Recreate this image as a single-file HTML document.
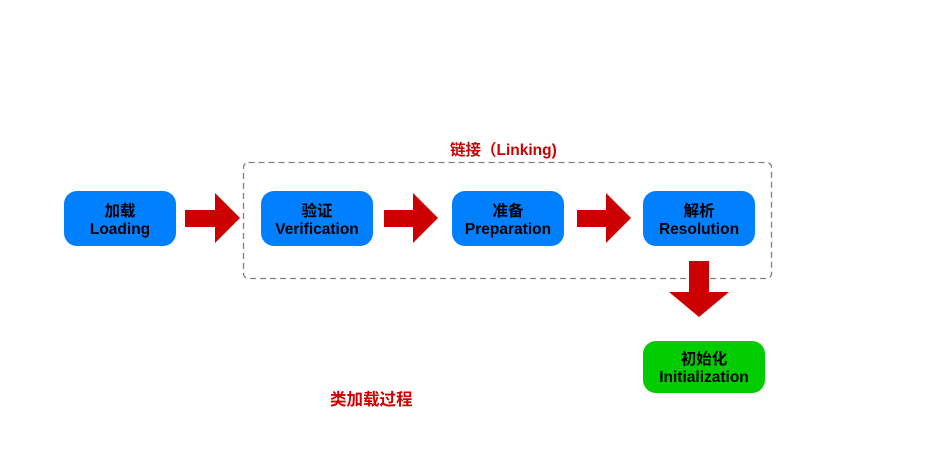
<!DOCTYPE html>
<html><head><meta charset="utf-8"><style>
body{margin:0;width:934px;height:462px;background:#fff;position:relative;overflow:hidden;font-family:"Liberation Sans","Noto Sans CJK SC",sans-serif;}
.b{position:absolute;box-sizing:border-box;padding-top:4px;width:112px;height:55px;border-radius:13px;background:#0080ff;color:#000;font-weight:bold;font-size:15.5px;line-height:18px;text-align:center;display:flex;flex-direction:column;justify-content:center;}
.t{position:absolute;color:#cc0000;font-weight:bold;font-size:15.5px;white-space:nowrap;}
</style></head><body>
<svg width="934" height="462" style="position:absolute;left:0;top:0">
<rect x="243.5" y="162.5" width="528" height="116" rx="5" fill="none" stroke="#808080" stroke-width="1.3" stroke-dasharray="6,4"/>
<g fill="#cc0000">
<polygon points="185,210 215,210 215,193 240,218 215,243 215,227 185,227"/>
<polygon points="384,210 413,210 413,193 438,218 413,243 413,227 384,227"/>
<polygon points="577,210 606,210 606,193 631,218 606,243 606,227 577,227"/>
<polygon points="689,261 709,261 709,292 729,292 699,317 669,292 689,292"/>
</g>
</svg>
<div class="b" style="left:64px;top:191px">加载<br>Loading</div>
<div class="b" style="left:261px;top:191px">验证<br>Verification</div>
<div class="b" style="left:452px;top:191px">准备<br>Preparation</div>
<div class="b" style="left:643px;top:191px">解析<br>Resolution</div>
<div class="b" style="left:643px;top:341px;width:122px;height:52px;background:#00cc00">初始化<br>Initialization</div>
<div class="t" style="left:450px;top:138px">链接（Linking)</div>
<div class="t" style="left:330px;top:386px;font-size:16.5px">类加载过程</div>
</body></html>
